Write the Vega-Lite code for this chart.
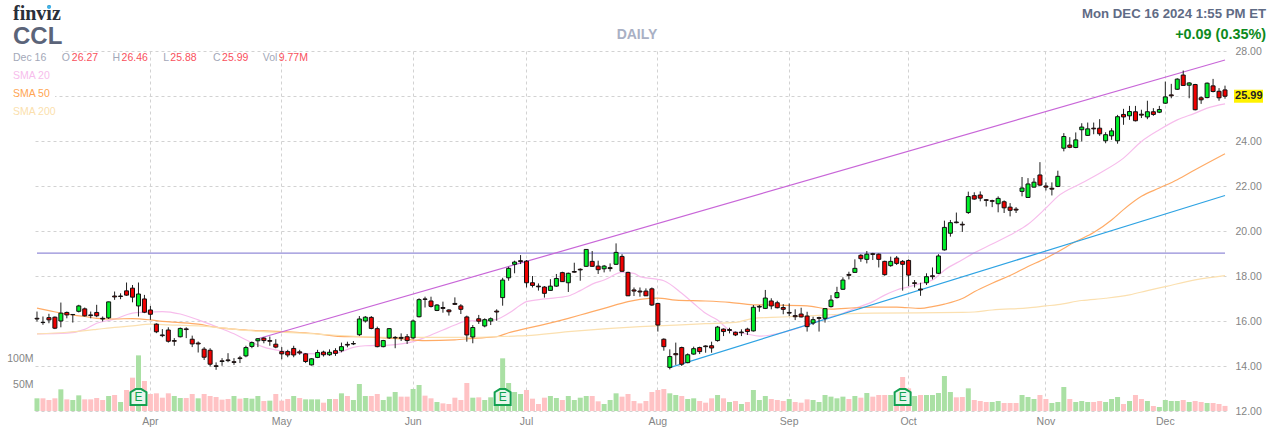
{
"$schema":"https://vega.github.io/schema/vega-lite/v6.json",
"width":1190,"height":360,"autosize":{"type":"none"},
"padding":{"left":35,"top":51,"right":55,"bottom":29},
"background":"white",
"config":{"view":{"stroke":null},"font":"Liberation Sans","axis":{"labelFont":"Liberation Sans"}},
"datasets":{
"bars":[
{"date":"2024-03-04","open":16.12,"high":16.42,"low":15.98,"close":16.09,"volume":24.4,"dir":"up"},
{"date":"2024-03-05","open":15.94,"high":16.2,"low":15.83,"close":15.93,"volume":24.4,"dir":"down"},
{"date":"2024-03-06","open":16.15,"high":16.32,"low":15.9,"close":16.05,"volume":21.2,"dir":"down"},
{"date":"2024-03-07","open":16.17,"high":16.2,"low":15.64,"close":15.68,"volume":24.4,"dir":"down"},
{"date":"2024-03-08","open":16.0,"high":16.82,"low":15.72,"close":16.35,"volume":41.7,"dir":"up"},
{"date":"2024-03-11","open":16.38,"high":16.42,"low":16.12,"close":16.27,"volume":22.4,"dir":"down"},
{"date":"2024-03-12","open":16.29,"high":16.31,"low":15.93,"close":16.28,"volume":21.2,"dir":"up"},
{"date":"2024-03-13","open":16.43,"high":16.72,"low":16.38,"close":16.67,"volume":30.1,"dir":"up"},
{"date":"2024-03-14","open":16.54,"high":16.6,"low":16.2,"close":16.23,"volume":22.4,"dir":"down"},
{"date":"2024-03-15","open":16.27,"high":16.42,"low":16.12,"close":16.24,"volume":22.4,"dir":"down"},
{"date":"2024-03-18","open":16.38,"high":16.72,"low":16.17,"close":16.23,"volume":25,"dir":"down"},
{"date":"2024-03-19","open":16.12,"high":16.2,"low":15.98,"close":16.09,"volume":21.2,"dir":"down"},
{"date":"2024-03-20","open":16.14,"high":16.86,"low":16.09,"close":16.85,"volume":28.8,"dir":"up"},
{"date":"2024-03-21","open":17.11,"high":17.31,"low":16.94,"close":17.07,"volume":30.8,"dir":"down"},
{"date":"2024-03-22","open":17.11,"high":17.23,"low":16.97,"close":17.09,"volume":17.3,"dir":"up"},
{"date":"2024-03-25","open":17.34,"high":17.71,"low":17.12,"close":17.15,"volume":40.4,"dir":"down"},
{"date":"2024-03-26","open":17.46,"high":17.6,"low":16.83,"close":17.06,"volume":64.1,"dir":"down"},
{"date":"2024-03-27","open":16.67,"high":17.71,"low":16.2,"close":17.2,"volume":107,"dir":"up"},
{"date":"2024-03-28","open":16.98,"high":17.16,"low":16.35,"close":16.39,"volume":57.7,"dir":"down"},
{"date":"2024-04-01","open":16.49,"high":16.67,"low":16.05,"close":16.3,"volume":32.7,"dir":"down"},
{"date":"2024-04-02","open":15.86,"high":15.9,"low":15.46,"close":15.52,"volume":34,"dir":"down"},
{"date":"2024-04-03","open":15.38,"high":15.64,"low":15.28,"close":15.35,"volume":25.6,"dir":"down"},
{"date":"2024-04-04","open":15.6,"high":15.72,"low":15.04,"close":15.1,"volume":34,"dir":"down"},
{"date":"2024-04-05","open":15.13,"high":15.24,"low":14.9,"close":15.1,"volume":28.8,"dir":"up"},
{"date":"2024-04-08","open":15.3,"high":15.71,"low":15.27,"close":15.67,"volume":25,"dir":"up"},
{"date":"2024-04-09","open":15.65,"high":15.72,"low":15.24,"close":15.62,"volume":25,"dir":"down"},
{"date":"2024-04-10","open":15.19,"high":15.35,"low":14.84,"close":14.98,"volume":32.7,"dir":"down"},
{"date":"2024-04-11","open":15.02,"high":15.09,"low":14.6,"close":14.98,"volume":24.4,"dir":"up"},
{"date":"2024-04-12","open":14.75,"high":14.84,"low":14.27,"close":14.39,"volume":32.7,"dir":"down"},
{"date":"2024-04-15","open":14.7,"high":14.79,"low":13.98,"close":14.08,"volume":28.8,"dir":"down"},
{"date":"2024-04-16","open":14.01,"high":14.16,"low":13.83,"close":13.98,"volume":26.9,"dir":"down"},
{"date":"2024-04-17","open":14.23,"high":14.35,"low":14.01,"close":14.2,"volume":21.8,"dir":"down"},
{"date":"2024-04-18","open":14.27,"high":14.57,"low":14.17,"close":14.24,"volume":23.1,"dir":"down"},
{"date":"2024-04-19","open":14.19,"high":14.35,"low":14.05,"close":14.16,"volume":28.8,"dir":"up"},
{"date":"2024-04-22","open":14.36,"high":14.45,"low":14.13,"close":14.33,"volume":23.7,"dir":"down"},
{"date":"2024-04-23","open":14.45,"high":14.9,"low":14.39,"close":14.82,"volume":25,"dir":"up"},
{"date":"2024-04-24","open":14.87,"high":15.09,"low":14.79,"close":15.04,"volume":23.7,"dir":"up"},
{"date":"2024-04-25","open":15.12,"high":15.24,"low":14.84,"close":15.21,"volume":28.8,"dir":"up"},
{"date":"2024-04-26","open":15.24,"high":15.28,"low":15.01,"close":15.13,"volume":19.2,"dir":"down"},
{"date":"2024-04-29","open":15.13,"high":15.31,"low":14.9,"close":15.1,"volume":19.9,"dir":"up"},
{"date":"2024-04-30","open":14.97,"high":15.19,"low":14.79,"close":14.84,"volume":32.7,"dir":"down"},
{"date":"2024-05-01","open":14.64,"high":14.84,"low":14.3,"close":14.54,"volume":19.9,"dir":"down"},
{"date":"2024-05-02","open":14.64,"high":14.72,"low":14.39,"close":14.49,"volume":23.1,"dir":"down"},
{"date":"2024-05-03","open":14.78,"high":14.9,"low":14.39,"close":14.49,"volume":28.8,"dir":"up"},
{"date":"2024-05-06","open":14.63,"high":14.72,"low":14.5,"close":14.58,"volume":25,"dir":"down"},
{"date":"2024-05-07","open":14.54,"high":14.57,"low":14.13,"close":14.2,"volume":22.4,"dir":"up"},
{"date":"2024-05-08","open":14.05,"high":14.35,"low":14.02,"close":14.32,"volume":22.4,"dir":"up"},
{"date":"2024-05-09","open":14.38,"high":14.72,"low":14.35,"close":14.6,"volume":22.4,"dir":"up"},
{"date":"2024-05-10","open":14.62,"high":14.68,"low":14.42,"close":14.5,"volume":16,"dir":"down"},
{"date":"2024-05-13","open":14.5,"high":14.74,"low":14.45,"close":14.61,"volume":23.1,"dir":"up"},
{"date":"2024-05-14","open":14.68,"high":14.79,"low":14.45,"close":14.56,"volume":23.1,"dir":"down"},
{"date":"2024-05-15","open":14.68,"high":15.04,"low":14.61,"close":14.86,"volume":34,"dir":"up"},
{"date":"2024-05-16","open":14.96,"high":15.08,"low":14.83,"close":14.93,"volume":28.8,"dir":"down"},
{"date":"2024-05-17","open":15.0,"high":15.11,"low":14.93,"close":14.98,"volume":21.2,"dir":"up"},
{"date":"2024-05-20","open":15.39,"high":16.22,"low":15.33,"close":16.09,"volume":51.9,"dir":"up"},
{"date":"2024-05-21","open":16.0,"high":16.22,"low":15.93,"close":16.17,"volume":28.8,"dir":"up"},
{"date":"2024-05-22","open":16.16,"high":16.22,"low":15.63,"close":15.67,"volume":28.8,"dir":"down"},
{"date":"2024-05-23","open":15.66,"high":15.75,"low":14.83,"close":14.86,"volume":32.7,"dir":"down"},
{"date":"2024-05-24","open":14.86,"high":15.16,"low":14.83,"close":15.13,"volume":21.2,"dir":"up"},
{"date":"2024-05-28","open":15.25,"high":15.67,"low":15.2,"close":15.66,"volume":27.6,"dir":"up"},
{"date":"2024-05-29","open":15.27,"high":15.33,"low":14.79,"close":15.25,"volume":36.5,"dir":"up"},
{"date":"2024-05-30","open":15.27,"high":15.45,"low":15.11,"close":15.23,"volume":27.6,"dir":"down"},
{"date":"2024-05-31","open":15.3,"high":15.42,"low":14.98,"close":15.13,"volume":27.6,"dir":"down"},
{"date":"2024-06-03","open":15.25,"high":16.07,"low":15.19,"close":16.0,"volume":42.3,"dir":"up"},
{"date":"2024-06-04","open":16.19,"high":17.01,"low":16.16,"close":16.95,"volume":50,"dir":"up"},
{"date":"2024-06-05","open":16.98,"high":17.08,"low":16.6,"close":16.96,"volume":29.5,"dir":"down"},
{"date":"2024-06-06","open":16.89,"high":17.08,"low":16.6,"close":16.65,"volume":24.4,"dir":"down"},
{"date":"2024-06-07","open":16.47,"high":16.75,"low":16.44,"close":16.71,"volume":17.3,"dir":"up"},
{"date":"2024-06-10","open":16.6,"high":16.86,"low":16.37,"close":16.56,"volume":14.7,"dir":"down"},
{"date":"2024-06-11","open":16.49,"high":16.52,"low":16.24,"close":16.41,"volume":13.5,"dir":"down"},
{"date":"2024-06-12","open":16.78,"high":17.05,"low":16.71,"close":16.74,"volume":25.6,"dir":"down"},
{"date":"2024-06-13","open":16.67,"high":16.75,"low":16.31,"close":16.52,"volume":21.2,"dir":"down"},
{"date":"2024-06-14","open":16.18,"high":16.24,"low":15.08,"close":15.38,"volume":53.8,"dir":"down"},
{"date":"2024-06-17","open":15.29,"high":15.82,"low":15.01,"close":15.71,"volume":25.6,"dir":"up"},
{"date":"2024-06-18","open":16.1,"high":16.27,"low":15.87,"close":15.99,"volume":26.3,"dir":"down"},
{"date":"2024-06-20","open":15.78,"high":16.12,"low":15.72,"close":16.06,"volume":21.2,"dir":"up"},
{"date":"2024-06-21","open":16.0,"high":16.16,"low":15.82,"close":16.1,"volume":26.3,"dir":"up"},
{"date":"2024-06-24","open":16.44,"high":16.52,"low":16.01,"close":16.4,"volume":14.7,"dir":"up"},
{"date":"2024-06-25","open":17.04,"high":17.92,"low":16.68,"close":17.82,"volume":101.3,"dir":"up"},
{"date":"2024-06-26","open":17.92,"high":18.41,"low":17.79,"close":18.34,"volume":53.8,"dir":"up"},
{"date":"2024-06-27","open":18.52,"high":18.68,"low":18.12,"close":18.62,"volume":36.5,"dir":"up"},
{"date":"2024-06-28","open":18.68,"high":18.93,"low":18.53,"close":18.64,"volume":32.7,"dir":"up"},
{"date":"2024-07-01","open":18.66,"high":18.71,"low":17.49,"close":17.7,"volume":40.4,"dir":"down"},
{"date":"2024-07-02","open":17.7,"high":18.0,"low":17.49,"close":17.58,"volume":23.7,"dir":"down"},
{"date":"2024-07-03","open":17.55,"high":17.67,"low":17.35,"close":17.52,"volume":13.5,"dir":"down"},
{"date":"2024-07-05","open":17.51,"high":17.55,"low":17.04,"close":17.23,"volume":25.6,"dir":"down"},
{"date":"2024-07-08","open":17.36,"high":17.86,"low":17.35,"close":17.55,"volume":28.8,"dir":"up"},
{"date":"2024-07-09","open":17.55,"high":18.09,"low":17.52,"close":17.89,"volume":25,"dir":"up"},
{"date":"2024-07-10","open":18.15,"high":18.19,"low":17.75,"close":17.75,"volume":21.2,"dir":"down"},
{"date":"2024-07-11","open":17.7,"high":18.15,"low":17.29,"close":18.12,"volume":28.8,"dir":"up"},
{"date":"2024-07-12","open":18.2,"high":18.59,"low":18.15,"close":18.17,"volume":21.2,"dir":"up"},
{"date":"2024-07-15","open":18.3,"high":18.34,"low":17.79,"close":18.27,"volume":25.6,"dir":"up"},
{"date":"2024-07-16","open":18.43,"high":19.2,"low":18.41,"close":19.18,"volume":28.8,"dir":"up"},
{"date":"2024-07-17","open":18.65,"high":19.11,"low":18.41,"close":18.43,"volume":28.8,"dir":"down"},
{"date":"2024-07-18","open":18.44,"high":18.68,"low":18.09,"close":18.28,"volume":18.6,"dir":"down"},
{"date":"2024-07-19","open":18.32,"high":18.49,"low":18.16,"close":18.44,"volume":13.5,"dir":"up"},
{"date":"2024-07-22","open":18.37,"high":18.56,"low":18.2,"close":18.33,"volume":21.2,"dir":"up"},
{"date":"2024-07-23","open":18.52,"high":19.45,"low":18.49,"close":19.05,"volume":34,"dir":"up"},
{"date":"2024-07-24","open":18.87,"high":18.97,"low":18.19,"close":18.21,"volume":27.6,"dir":"down"},
{"date":"2024-07-25","open":18.16,"high":18.19,"low":17.11,"close":17.12,"volume":32.7,"dir":"down"},
{"date":"2024-07-26","open":17.38,"high":17.49,"low":17.11,"close":17.33,"volume":19.2,"dir":"down"},
{"date":"2024-07-29","open":17.33,"high":17.49,"low":17.08,"close":17.29,"volume":14.7,"dir":"down"},
{"date":"2024-07-30","open":17.33,"high":17.45,"low":17.11,"close":17.12,"volume":19.2,"dir":"down"},
{"date":"2024-07-31","open":17.43,"high":17.49,"low":16.67,"close":16.71,"volume":36.5,"dir":"down"},
{"date":"2024-08-01","open":16.78,"high":16.81,"low":15.53,"close":15.82,"volume":40.4,"dir":"down"},
{"date":"2024-08-02","open":15.19,"high":15.23,"low":14.68,"close":14.86,"volume":42.3,"dir":"down"},
{"date":"2024-08-05","open":13.94,"high":14.74,"low":13.85,"close":14.42,"volume":34,"dir":"up"},
{"date":"2024-08-06","open":14.55,"high":15.04,"low":14.05,"close":14.5,"volume":30.8,"dir":"up"},
{"date":"2024-08-07","open":14.82,"high":14.86,"low":14.0,"close":14.08,"volume":28.8,"dir":"down"},
{"date":"2024-08-08","open":14.15,"high":14.56,"low":14.12,"close":14.5,"volume":23.1,"dir":"up"},
{"date":"2024-08-09","open":14.53,"high":14.86,"low":14.5,"close":14.77,"volume":24.4,"dir":"up"},
{"date":"2024-08-12","open":14.82,"high":14.86,"low":14.53,"close":14.64,"volume":19.2,"dir":"down"},
{"date":"2024-08-13","open":14.89,"high":14.92,"low":14.59,"close":14.86,"volume":16,"dir":"down"},
{"date":"2024-08-14","open":14.9,"high":15.08,"low":14.59,"close":14.8,"volume":24.4,"dir":"down"},
{"date":"2024-08-15","open":15.13,"high":15.78,"low":15.08,"close":15.73,"volume":30.8,"dir":"up"},
{"date":"2024-08-16","open":15.64,"high":15.67,"low":15.33,"close":15.53,"volume":24.4,"dir":"down"},
{"date":"2024-08-19","open":15.62,"high":15.7,"low":15.45,"close":15.58,"volume":17.3,"dir":"up"},
{"date":"2024-08-20","open":15.5,"high":15.53,"low":15.33,"close":15.38,"volume":19.2,"dir":"down"},
{"date":"2024-08-21","open":15.51,"high":15.63,"low":15.33,"close":15.48,"volume":13.5,"dir":"up"},
{"date":"2024-08-22","open":15.64,"high":15.7,"low":15.38,"close":15.53,"volume":17.3,"dir":"down"},
{"date":"2024-08-23","open":15.56,"high":16.71,"low":15.53,"close":16.61,"volume":40.4,"dir":"up"},
{"date":"2024-08-26","open":16.65,"high":16.71,"low":16.41,"close":16.62,"volume":21.2,"dir":"up"},
{"date":"2024-08-27","open":16.56,"high":17.38,"low":16.53,"close":17.02,"volume":28.8,"dir":"up"},
{"date":"2024-08-28","open":16.89,"high":17.01,"low":16.52,"close":16.67,"volume":23.1,"dir":"down"},
{"date":"2024-08-29","open":16.81,"high":16.9,"low":16.56,"close":16.59,"volume":21.2,"dir":"down"},
{"date":"2024-08-30","open":16.6,"high":16.75,"low":16.3,"close":16.52,"volume":19.2,"dir":"down"},
{"date":"2024-09-03","open":16.38,"high":16.78,"low":16.22,"close":16.35,"volume":23.1,"dir":"up"},
{"date":"2024-09-04","open":16.24,"high":16.52,"low":16.04,"close":16.19,"volume":17.3,"dir":"down"},
{"date":"2024-09-05","open":16.31,"high":16.59,"low":16.16,"close":16.18,"volume":16,"dir":"down"},
{"date":"2024-09-06","open":16.22,"high":16.41,"low":15.53,"close":15.75,"volume":22.4,"dir":"down"},
{"date":"2024-09-09","open":15.91,"high":16.19,"low":15.82,"close":16.06,"volume":21.2,"dir":"up"},
{"date":"2024-09-10","open":16.15,"high":16.19,"low":15.53,"close":16.12,"volume":17.3,"dir":"up"},
{"date":"2024-09-11","open":16.12,"high":16.56,"low":15.93,"close":16.55,"volume":30.8,"dir":"up"},
{"date":"2024-09-12","open":16.64,"high":17.15,"low":16.6,"close":16.93,"volume":27.6,"dir":"up"},
{"date":"2024-09-13","open":17.04,"high":17.52,"low":17.0,"close":17.26,"volume":24.4,"dir":"up"},
{"date":"2024-09-16","open":17.41,"high":17.94,"low":17.38,"close":17.82,"volume":27.6,"dir":"up"},
{"date":"2024-09-17","open":18.07,"high":18.19,"low":17.85,"close":18.03,"volume":23.1,"dir":"down"},
{"date":"2024-09-18","open":18.16,"high":18.74,"low":18.15,"close":18.34,"volume":28.8,"dir":"up"},
{"date":"2024-09-19","open":18.92,"high":18.97,"low":18.63,"close":18.77,"volume":25.6,"dir":"down"},
{"date":"2024-09-20","open":18.74,"high":19.11,"low":18.56,"close":18.97,"volume":34.6,"dir":"up"},
{"date":"2024-09-23","open":18.99,"high":19.03,"low":18.71,"close":18.96,"volume":27.6,"dir":"down"},
{"date":"2024-09-24","open":18.97,"high":19.0,"low":18.38,"close":18.74,"volume":30.8,"dir":"down"},
{"date":"2024-09-25","open":18.65,"high":18.68,"low":18.01,"close":18.06,"volume":30.8,"dir":"down"},
{"date":"2024-09-26","open":18.46,"high":18.86,"low":18.41,"close":18.65,"volume":30.8,"dir":"up"},
{"date":"2024-09-27","open":18.8,"high":18.89,"low":18.49,"close":18.56,"volume":25.6,"dir":"down"},
{"date":"2024-09-30","open":18.65,"high":18.71,"low":17.35,"close":18.52,"volume":65.4,"dir":"down"},
{"date":"2024-10-01","open":18.69,"high":18.74,"low":17.55,"close":18.04,"volume":43.6,"dir":"down"},
{"date":"2024-10-02","open":17.7,"high":17.82,"low":17.49,"close":17.67,"volume":28.8,"dir":"up"},
{"date":"2024-10-03","open":17.42,"high":17.7,"low":17.12,"close":17.38,"volume":30.8,"dir":"down"},
{"date":"2024-10-04","open":17.7,"high":18.12,"low":17.6,"close":17.97,"volume":30.8,"dir":"up"},
{"date":"2024-10-07","open":18.01,"high":18.38,"low":17.85,"close":17.97,"volume":30.8,"dir":"up"},
{"date":"2024-10-08","open":18.12,"high":18.97,"low":18.09,"close":18.89,"volume":34.6,"dir":"up"},
{"date":"2024-10-09","open":19.16,"high":20.46,"low":19.13,"close":20.16,"volume":67.3,"dir":"up"},
{"date":"2024-10-10","open":19.9,"high":20.49,"low":19.75,"close":20.37,"volume":36.5,"dir":"up"},
{"date":"2024-10-11","open":20.4,"high":20.82,"low":20.34,"close":20.37,"volume":26.3,"dir":"down"},
{"date":"2024-10-14","open":20.3,"high":20.42,"low":19.96,"close":20.27,"volume":26.9,"dir":"down"},
{"date":"2024-10-15","open":20.82,"high":21.75,"low":20.76,"close":21.53,"volume":43.6,"dir":"up"},
{"date":"2024-10-16","open":21.57,"high":21.72,"low":21.39,"close":21.42,"volume":21.2,"dir":"down"},
{"date":"2024-10-17","open":21.6,"high":21.76,"low":21.32,"close":21.46,"volume":19.2,"dir":"down"},
{"date":"2024-10-18","open":21.39,"high":21.42,"low":21.09,"close":21.36,"volume":17.3,"dir":"down"},
{"date":"2024-10-21","open":21.35,"high":21.39,"low":21.06,"close":21.32,"volume":17.3,"dir":"up"},
{"date":"2024-10-22","open":21.21,"high":21.54,"low":20.83,"close":21.45,"volume":19.2,"dir":"up"},
{"date":"2024-10-23","open":21.3,"high":21.36,"low":20.8,"close":21.03,"volume":15.4,"dir":"down"},
{"date":"2024-10-24","open":21.06,"high":21.24,"low":20.65,"close":20.92,"volume":15.4,"dir":"down"},
{"date":"2024-10-25","open":20.97,"high":21.06,"low":20.8,"close":20.93,"volume":15.4,"dir":"down"},
{"date":"2024-10-28","open":21.76,"high":22.4,"low":21.54,"close":21.91,"volume":30.8,"dir":"up"},
{"date":"2024-10-29","open":21.49,"high":22.35,"low":21.49,"close":22.09,"volume":26.9,"dir":"up"},
{"date":"2024-10-30","open":21.95,"high":22.35,"low":21.93,"close":22.17,"volume":23.1,"dir":"up"},
{"date":"2024-10-31","open":22.49,"high":23.06,"low":22.0,"close":22.04,"volume":30.8,"dir":"down"},
{"date":"2024-11-01","open":22.0,"high":22.16,"low":21.8,"close":21.95,"volume":23.1,"dir":"down"},
{"date":"2024-11-04","open":21.9,"high":22.16,"low":21.58,"close":21.86,"volume":15.4,"dir":"up"},
{"date":"2024-11-05","open":21.98,"high":22.68,"low":21.95,"close":22.43,"volume":17.3,"dir":"up"},
{"date":"2024-11-06","open":23.68,"high":24.35,"low":23.54,"close":24.2,"volume":46.2,"dir":"up"},
{"date":"2024-11-07","open":23.82,"high":24.17,"low":23.68,"close":23.72,"volume":23.1,"dir":"down"},
{"date":"2024-11-08","open":23.71,"high":24.38,"low":23.68,"close":24.05,"volume":17.3,"dir":"up"},
{"date":"2024-11-11","open":24.5,"high":24.79,"low":23.98,"close":24.62,"volume":19.2,"dir":"up"},
{"date":"2024-11-12","open":24.25,"high":24.82,"low":24.23,"close":24.54,"volume":17.3,"dir":"up"},
{"date":"2024-11-13","open":24.57,"high":24.82,"low":24.3,"close":24.54,"volume":17.3,"dir":"down"},
{"date":"2024-11-14","open":24.57,"high":24.97,"low":24.23,"close":24.32,"volume":19.2,"dir":"down"},
{"date":"2024-11-15","open":24.01,"high":24.39,"low":23.9,"close":24.28,"volume":17.3,"dir":"up"},
{"date":"2024-11-18","open":24.23,"high":24.57,"low":24.05,"close":24.45,"volume":23.1,"dir":"up"},
{"date":"2024-11-19","open":24.01,"high":25.16,"low":23.88,"close":25.08,"volume":26.9,"dir":"up"},
{"date":"2024-11-20","open":25.18,"high":25.43,"low":24.72,"close":25.07,"volume":13.5,"dir":"down"},
{"date":"2024-11-21","open":25.12,"high":25.56,"low":24.94,"close":25.31,"volume":19.2,"dir":"up"},
{"date":"2024-11-22","open":25.3,"high":25.56,"low":24.87,"close":24.9,"volume":30.8,"dir":"down"},
{"date":"2024-11-25","open":25.19,"high":25.39,"low":25.02,"close":25.15,"volume":23.1,"dir":"down"},
{"date":"2024-11-26","open":25.07,"high":25.79,"low":24.97,"close":25.3,"volume":19.2,"dir":"up"},
{"date":"2024-11-27","open":25.3,"high":25.46,"low":25.12,"close":25.18,"volume":9.6,"dir":"down"},
{"date":"2024-11-29","open":25.28,"high":25.56,"low":25.24,"close":25.4,"volume":7.7,"dir":"up"},
{"date":"2024-12-02","open":25.68,"high":26.64,"low":25.65,"close":25.96,"volume":21.2,"dir":"up"},
{"date":"2024-12-03","open":26.05,"high":26.54,"low":25.9,"close":26.01,"volume":19.2,"dir":"up"},
{"date":"2024-12-04","open":26.3,"high":26.79,"low":26.27,"close":26.75,"volume":19.2,"dir":"up"},
{"date":"2024-12-05","open":26.93,"high":27.13,"low":26.47,"close":26.47,"volume":21.2,"dir":"down"},
{"date":"2024-12-06","open":26.48,"high":26.61,"low":25.9,"close":26.58,"volume":17.3,"dir":"up"},
{"date":"2024-12-09","open":26.51,"high":26.54,"low":25.36,"close":25.39,"volume":19.2,"dir":"down"},
{"date":"2024-12-10","open":25.92,"high":25.98,"low":25.65,"close":25.83,"volume":17.3,"dir":"down"},
{"date":"2024-12-11","open":25.93,"high":26.6,"low":25.9,"close":26.57,"volume":15.4,"dir":"up"},
{"date":"2024-12-12","open":26.45,"high":26.76,"low":26.16,"close":26.2,"volume":15.4,"dir":"down"},
{"date":"2024-12-13","open":26.21,"high":26.35,"low":25.79,"close":25.92,"volume":13.5,"dir":"down"},
{"date":"2024-12-16","open":26.27,"high":26.46,"low":25.88,"close":25.99,"volume":9.77,"dir":"down"}
],
"lines":[
{"date":"2024-03-04","series":"sma20","price":15.43},{"date":"2024-03-11","series":"sma20","price":15.46},{"date":"2024-03-14","series":"sma20","price":15.63},{"date":"2024-03-18","series":"sma20","price":15.9},{"date":"2024-03-21","series":"sma20","price":16.08},{"date":"2024-03-26","series":"sma20","price":16.35},{"date":"2024-03-28","series":"sma20","price":16.39},{"date":"2024-04-03","series":"sma20","price":16.42},{"date":"2024-04-08","series":"sma20","price":16.31},{"date":"2024-04-11","series":"sma20","price":16.05},{"date":"2024-04-16","series":"sma20","price":15.75},{"date":"2024-04-19","series":"sma20","price":15.43},{"date":"2024-04-24","series":"sma20","price":15.04},{"date":"2024-04-26","series":"sma20","price":14.84},{"date":"2024-05-01","series":"sma20","price":14.67},{"date":"2024-05-06","series":"sma20","price":14.57},{"date":"2024-05-09","series":"sma20","price":14.54},{"date":"2024-05-14","series":"sma20","price":14.57},{"date":"2024-05-17","series":"sma20","price":14.83},{"date":"2024-05-21","series":"sma20","price":14.9},{"date":"2024-05-28","series":"sma20","price":14.93},{"date":"2024-05-30","series":"sma20","price":14.98},{"date":"2024-06-03","series":"sma20","price":15.08},{"date":"2024-06-05","series":"sma20","price":15.27},{"date":"2024-06-10","series":"sma20","price":15.6},{"date":"2024-06-12","series":"sma20","price":15.82},{"date":"2024-06-14","series":"sma20","price":16.01},{"date":"2024-06-20","series":"sma20","price":16.01},{"date":"2024-06-24","series":"sma20","price":16.07},{"date":"2024-06-26","series":"sma20","price":16.34},{"date":"2024-06-28","series":"sma20","price":16.71},{"date":"2024-07-01","series":"sma20","price":16.86},{"date":"2024-07-05","series":"sma20","price":16.98},{"date":"2024-07-11","series":"sma20","price":17.11},{"date":"2024-07-15","series":"sma20","price":17.35},{"date":"2024-07-17","series":"sma20","price":17.64},{"date":"2024-07-19","series":"sma20","price":17.82},{"date":"2024-07-24","series":"sma20","price":18.16},{"date":"2024-07-26","series":"sma20","price":18.12},{"date":"2024-07-29","series":"sma20","price":17.97},{"date":"2024-08-01","series":"sma20","price":17.85},{"date":"2024-08-02","series":"sma20","price":17.79},{"date":"2024-08-07","series":"sma20","price":17.23},{"date":"2024-08-09","series":"sma20","price":16.78},{"date":"2024-08-13","series":"sma20","price":16.34},{"date":"2024-08-15","series":"sma20","price":16.04},{"date":"2024-08-19","series":"sma20","price":15.6},{"date":"2024-08-22","series":"sma20","price":15.42},{"date":"2024-08-26","series":"sma20","price":15.33},{"date":"2024-08-28","series":"sma20","price":15.38},{"date":"2024-09-06","series":"sma20","price":15.82},{"date":"2024-09-12","series":"sma20","price":16.19},{"date":"2024-09-16","series":"sma20","price":16.34},{"date":"2024-09-18","series":"sma20","price":16.56},{"date":"2024-09-23","series":"sma20","price":16.86},{"date":"2024-09-25","series":"sma20","price":17.15},{"date":"2024-09-27","series":"sma20","price":17.38},{"date":"2024-10-01","series":"sma20","price":17.52},{"date":"2024-10-03","series":"sma20","price":17.67},{"date":"2024-10-07","series":"sma20","price":17.82},{"date":"2024-10-09","series":"sma20","price":18.26},{"date":"2024-10-14","series":"sma20","price":18.72},{"date":"2024-10-16","series":"sma20","price":19.03},{"date":"2024-10-21","series":"sma20","price":19.42},{"date":"2024-10-24","series":"sma20","price":19.82},{"date":"2024-10-29","series":"sma20","price":20.3},{"date":"2024-11-01","series":"sma20","price":21.02},{"date":"2024-11-05","series":"sma20","price":21.54},{"date":"2024-11-11","series":"sma20","price":22.13},{"date":"2024-11-14","series":"sma20","price":22.57},{"date":"2024-11-20","series":"sma20","price":23.24},{"date":"2024-11-25","series":"sma20","price":23.98},{"date":"2024-11-29","series":"sma20","price":24.5},{"date":"2024-12-04","series":"sma20","price":24.94},{"date":"2024-12-09","series":"sma20","price":25.24},{"date":"2024-12-11","series":"sma20","price":25.46},{"date":"2024-12-16","series":"sma20","price":25.65},
{"date":"2024-03-04","series":"sma50","price":16.57},{"date":"2024-03-06","series":"sma50","price":16.46},{"date":"2024-03-11","series":"sma50","price":16.3},{"date":"2024-03-14","series":"sma50","price":16.2},{"date":"2024-03-18","series":"sma50","price":16.12},{"date":"2024-03-21","series":"sma50","price":16.09},{"date":"2024-03-26","series":"sma50","price":16.11},{"date":"2024-04-01","series":"sma50","price":16.05},{"date":"2024-04-03","series":"sma50","price":15.98},{"date":"2024-04-08","series":"sma50","price":15.93},{"date":"2024-04-11","series":"sma50","price":15.86},{"date":"2024-04-16","series":"sma50","price":15.72},{"date":"2024-04-19","series":"sma50","price":15.64},{"date":"2024-04-24","series":"sma50","price":15.58},{"date":"2024-04-26","series":"sma50","price":15.56},{"date":"2024-05-01","series":"sma50","price":15.53},{"date":"2024-05-06","series":"sma50","price":15.49},{"date":"2024-05-09","series":"sma50","price":15.43},{"date":"2024-05-14","series":"sma50","price":15.33},{"date":"2024-05-17","series":"sma50","price":15.3},{"date":"2024-05-23","series":"sma50","price":15.27},{"date":"2024-05-30","series":"sma50","price":15.2},{"date":"2024-06-05","series":"sma50","price":15.13},{"date":"2024-06-12","series":"sma50","price":15.16},{"date":"2024-06-17","series":"sma50","price":15.23},{"date":"2024-06-24","series":"sma50","price":15.3},{"date":"2024-06-26","series":"sma50","price":15.48},{"date":"2024-07-01","series":"sma50","price":15.67},{"date":"2024-07-05","series":"sma50","price":15.85},{"date":"2024-07-11","series":"sma50","price":16.12},{"date":"2024-07-16","series":"sma50","price":16.34},{"date":"2024-07-19","series":"sma50","price":16.56},{"date":"2024-07-25","series":"sma50","price":16.86},{"date":"2024-07-29","series":"sma50","price":16.96},{"date":"2024-08-01","series":"sma50","price":17.02},{"date":"2024-08-06","series":"sma50","price":16.93},{"date":"2024-08-13","series":"sma50","price":16.89},{"date":"2024-08-19","series":"sma50","price":16.83},{"date":"2024-08-23","series":"sma50","price":16.72},{"date":"2024-08-28","series":"sma50","price":16.71},{"date":"2024-09-06","series":"sma50","price":16.67},{"date":"2024-09-12","series":"sma50","price":16.53},{"date":"2024-09-18","series":"sma50","price":16.59},{"date":"2024-09-23","series":"sma50","price":16.62},{"date":"2024-09-27","series":"sma50","price":16.62},{"date":"2024-10-03","series":"sma50","price":16.56},{"date":"2024-10-07","series":"sma50","price":16.64},{"date":"2024-10-09","series":"sma50","price":16.75},{"date":"2024-10-14","series":"sma50","price":17.0},{"date":"2024-10-16","series":"sma50","price":17.3},{"date":"2024-10-21","series":"sma50","price":17.68},{"date":"2024-10-24","series":"sma50","price":18.02},{"date":"2024-10-29","series":"sma50","price":18.42},{"date":"2024-11-01","series":"sma50","price":18.79},{"date":"2024-11-05","series":"sma50","price":19.08},{"date":"2024-11-08","series":"sma50","price":19.53},{"date":"2024-11-13","series":"sma50","price":19.93},{"date":"2024-11-18","series":"sma50","price":20.49},{"date":"2024-11-20","series":"sma50","price":20.95},{"date":"2024-11-25","series":"sma50","price":21.54},{"date":"2024-11-29","series":"sma50","price":21.91},{"date":"2024-12-04","series":"sma50","price":22.28},{"date":"2024-12-09","series":"sma50","price":22.72},{"date":"2024-12-16","series":"sma50","price":23.43},
{"date":"2024-03-04","series":"sma200","price":15.43},{"date":"2024-03-11","series":"sma200","price":15.5},{"date":"2024-03-18","series":"sma200","price":15.63},{"date":"2024-03-21","series":"sma200","price":15.72},{"date":"2024-03-26","series":"sma200","price":15.78},{"date":"2024-04-01","series":"sma200","price":15.86},{"date":"2024-04-04","series":"sma200","price":15.83},{"date":"2024-04-11","series":"sma200","price":15.78},{"date":"2024-04-16","series":"sma200","price":15.72},{"date":"2024-04-23","series":"sma200","price":15.58},{"date":"2024-05-07","series":"sma200","price":15.45},{"date":"2024-05-21","series":"sma200","price":15.3},{"date":"2024-05-29","series":"sma200","price":15.27},{"date":"2024-06-12","series":"sma200","price":15.27},{"date":"2024-06-27","series":"sma200","price":15.33},{"date":"2024-07-01","series":"sma200","price":15.35},{"date":"2024-07-11","series":"sma200","price":15.53},{"date":"2024-07-29","series":"sma200","price":15.75},{"date":"2024-08-06","series":"sma200","price":15.82},{"date":"2024-08-13","series":"sma200","price":15.88},{"date":"2024-08-20","series":"sma200","price":15.94},{"date":"2024-08-23","series":"sma200","price":16.12},{"date":"2024-08-28","series":"sma200","price":16.16},{"date":"2024-09-06","series":"sma200","price":16.22},{"date":"2024-09-16","series":"sma200","price":16.31},{"date":"2024-09-23","series":"sma200","price":16.35},{"date":"2024-10-14","series":"sma200","price":16.38},{"date":"2024-10-16","series":"sma200","price":16.4},{"date":"2024-10-21","series":"sma200","price":16.49},{"date":"2024-10-29","series":"sma200","price":16.58},{"date":"2024-11-01","series":"sma200","price":16.67},{"date":"2024-11-05","series":"sma200","price":16.73},{"date":"2024-11-11","series":"sma200","price":16.91},{"date":"2024-11-15","series":"sma200","price":17.01},{"date":"2024-11-21","series":"sma200","price":17.16},{"date":"2024-11-26","series":"sma200","price":17.35},{"date":"2024-12-02","series":"sma200","price":17.53},{"date":"2024-12-09","series":"sma200","price":17.83},{"date":"2024-12-16","series":"sma200","price":18.02},
{"date":"2024-03-04","series":"level","price":19.02},{"date":"2024-12-16","series":"level","price":19.02},
{"date":"2024-04-25","series":"channel","price":15.21},{"date":"2024-12-16","series":"channel","price":27.6},
{"date":"2024-08-05","series":"support","price":13.93},{"date":"2024-12-16","series":"support","price":21.58}
],
"events":[{"date":"2024-03-27","level":12.62,"label":"E"},{"date":"2024-06-25","level":12.62,"label":"E"},{"date":"2024-09-30","level":12.62,"label":"E"}]
},
"resolve":{"scale":{"y":"independent"},"axis":{"y":"independent"}},
"encoding":{"x":{"field":"date","type":"ordinal","title":null,
 "scale":{"range":[-1,1193],"paddingInner":0,"paddingOuter":0},
 "axis":{"values":["2024-04-01","2024-05-01","2024-06-03","2024-07-01","2024-08-01","2024-09-03","2024-10-01","2024-11-01","2024-12-02"],
  "labelExpr":"['Apr','May','Jun','Jul','Aug','Sep','Oct','Nov','Dec'][toNumber(slice(datum.value,5,7))-4]",
  "labelAngle":0,"labelAlign":"center","labelPadding":5,"labelFontSize":10.5,"labelColor":"#858585","ticks":false,"domain":false,"grid":true,"gridDash":[3,3],"gridColor":"#d2d2d2","labelOverlap":false}}},
"layer":[
{"data":{"name":"bars"},"mark":{"type":"bar","size":5},
 "encoding":{"y":{"field":"volume","type":"quantitative","stack":null,"title":null,"scale":{"domain":[0,692.3],"nice":false,"zero":true},
  "axis":{"orient":"left","values":[50,100],"labelExpr":"datum.value+'M'","grid":false,"ticks":false,"domain":false,"labelPadding":2,"labelFontSize":10.5,"labelColor":"#858585"}},
  "color":{"condition":{"test":"datum.dir==='up'","value":"#aae0a4"},"value":"#ffc2c4"}}},
{"layer":[
 {"data":{"name":"lines"},"mark":{"type":"line","strokeWidth":1.2,"interpolate":"monotone"},
  "encoding":{"y":{"field":"price","type":"quantitative","title":null,"scale":{"domain":[12,28],"nice":false,"zero":false},
   "axis":{"orient":"right","values":[12,14,16,18,20,22,24,26,28],"format":".2f","grid":true,"gridDash":[3,3],"gridColor":"#d2d2d2","ticks":false,"domain":false,"labelPadding":10,"labelFontSize":10.5,"labelColor":"#858585"}},
   "color":{"field":"series","type":"nominal","legend":null,"scale":{"domain":["sma20","sma50","sma200","level","channel","support"],"range":["#f7bdec","#ffab66","#fbe0b0","#938cd8","#c866d8","#2ea3e3"]}}}},
 {"data":{"name":"bars"},"mark":{"type":"rule","color":"#222222","strokeWidth":1},
  "encoding":{"y":{"field":"high","type":"quantitative"},"y2":{"field":"low"}}},
 {"data":{"name":"bars"},"mark":{"type":"bar","size":4,"stroke":"#111111","strokeWidth":1},
  "encoding":{"y":{"field":"open","type":"quantitative"},"y2":{"field":"close"},
   "fill":{"condition":{"test":"datum.close>datum.open","value":"#00f02a"},"value":"#f00000"}}},
 {"data":{"name":"events"},"mark":{"type":"point","shape":"M-1,-0.6L-0.35,-1L0.35,-1L1,-0.6L1,1L-1,1Z","size":256,"filled":true,"fill":"#e8f6ec","stroke":"#12a150","strokeWidth":2,"opacity":1},
  "encoding":{"y":{"field":"level","type":"quantitative"}}},
 {"data":{"name":"events"},"mark":{"type":"text","fontSize":12,"color":"#12a150"},
  "encoding":{"y":{"field":"level","type":"quantitative"},"text":{"field":"label"}}},
 {"data":{"values":[{"date":"2024-12-16","price":25.99}]},"mark":{"type":"point","shape":"M9,-6.5H38V6.5H9Z","size":4,"filled":true,"fill":"#fff200","opacity":1,"stroke":null},
  "encoding":{"y":{"field":"price","type":"quantitative"}}},
 {"data":{"values":[{"date":"2024-12-16","price":25.99,"label":"25.99"}]},"mark":{"type":"text","align":"left","dx":10,"fontSize":11,"fontWeight":"bold","color":"#222222"},
  "encoding":{"y":{"field":"price","type":"quantitative"},"text":{"field":"label"}}},
 {"data":{"values":[{"date":"2024-03-04","price":28}]},"mark":{"type":"point","shape":"M-8,-2H25V2H-8Z","size":4,"filled":true,"fill":"white","opacity":1,"stroke":null},
  "encoding":{"y":{"field":"price","type":"quantitative"}}},
 {"data":{"values":[{"date":"2024-03-04","price":26}]},"mark":{"type":"point","shape":"M-8,-2H18V2H-8Z","size":4,"filled":true,"fill":"white","opacity":1,"stroke":null},
  "encoding":{"y":{"field":"price","type":"quantitative"}}},
 {"data":{"values":[{"date":"2024-03-04","price":29.64,"label":"finviz"}]},"mark":{"type":"text","align":"left","dx":-24,"font":"Liberation Serif","fontSize":20,"fontWeight":"bold","color":"#2a2f3a"},
  "encoding":{"y":{"field":"price","type":"quantitative"},"text":{"field":"label"}}},
 {"data":{"values":[{"date":"2024-03-04","price":29.96}]},"mark":{"type":"point","shape":"M14,0A2,2 0 1 1 10,0A2,2 0 1 1 14,0Z","size":4,"filled":true,"fill":"#3fb2e8","opacity":1,"stroke":null},
  "encoding":{"y":{"field":"price","type":"quantitative"}}},
 {"data":{"values":[{"date":"2024-03-04","price":28.62,"label":"CCL"}]},"mark":{"type":"text","align":"left","dx":-24,"fontSize":24,"fontWeight":"bold","color":"#5b6479"},
  "encoding":{"y":{"field":"price","type":"quantitative"},"text":{"field":"label"}}},
 {"data":{"values":[{"date":"2024-03-04","price":27.69,"label":"Dec 16"}]},"mark":{"type":"text","align":"left","dx":-24,"fontSize":10.5,"color":"#a3a8b8"},
  "encoding":{"y":{"field":"price","type":"quantitative"},"text":{"field":"label"}}},
 {"data":{"values":[{"date":"2024-03-08","price":27.69,"label":"O"}]},"mark":{"type":"text","align":"left","dx":1,"fontSize":10.5,"color":"#a3a8b8"},
  "encoding":{"y":{"field":"price","type":"quantitative"},"text":{"field":"label"}}},
 {"data":{"values":[{"date":"2024-03-12","price":27.69,"label":"26.27"}]},"mark":{"type":"text","align":"left","dx":-1,"fontSize":10.5,"color":"#f9505c"},
  "encoding":{"y":{"field":"price","type":"quantitative"},"text":{"field":"label"}}},
 {"data":{"values":[{"date":"2024-03-21","price":27.69,"label":"H"}]},"mark":{"type":"text","align":"left","dx":-2,"fontSize":10.5,"color":"#a3a8b8"},
  "encoding":{"y":{"field":"price","type":"quantitative"},"text":{"field":"label"}}},
 {"data":{"values":[{"date":"2024-03-22","price":27.69,"label":"26.46"}]},"mark":{"type":"text","align":"left","dx":1,"fontSize":10.5,"color":"#f9505c"},
  "encoding":{"y":{"field":"price","type":"quantitative"},"text":{"field":"label"}}},
 {"data":{"values":[{"date":"2024-04-03","price":27.69,"label":"L"}]},"mark":{"type":"text","align":"left","dx":1,"fontSize":10.5,"color":"#a3a8b8"},
  "encoding":{"y":{"field":"price","type":"quantitative"},"text":{"field":"label"}}},
 {"data":{"values":[{"date":"2024-04-04","price":27.69,"label":"25.88"}]},"mark":{"type":"text","align":"left","dx":2,"fontSize":10.5,"color":"#f9505c"},
  "encoding":{"y":{"field":"price","type":"quantitative"},"text":{"field":"label"}}},
 {"data":{"values":[{"date":"2024-04-16","price":27.69,"label":"C"}]},"mark":{"type":"text","align":"left","dx":-3,"fontSize":10.5,"color":"#a3a8b8"},
  "encoding":{"y":{"field":"price","type":"quantitative"},"text":{"field":"label"}}},
 {"data":{"values":[{"date":"2024-04-17","price":27.69,"label":"25.99"}]},"mark":{"type":"text","align":"left","dx":0,"fontSize":10.5,"color":"#f9505c"},
  "encoding":{"y":{"field":"price","type":"quantitative"},"text":{"field":"label"}}},
 {"data":{"values":[{"date":"2024-04-26","price":27.69,"label":"Vol"}]},"mark":{"type":"text","align":"left","dx":-1,"fontSize":10.5,"color":"#a3a8b8"},
  "encoding":{"y":{"field":"price","type":"quantitative"},"text":{"field":"label"}}},
 {"data":{"values":[{"date":"2024-05-01","price":27.69,"label":"9.77M"}]},"mark":{"type":"text","align":"left","dx":-3,"fontSize":10.5,"color":"#f9505c"},
  "encoding":{"y":{"field":"price","type":"quantitative"},"text":{"field":"label"}}},
 {"data":{"values":[{"date":"2024-03-04","price":26.89,"label":"SMA 20"}]},"mark":{"type":"text","align":"left","dx":-24,"fontSize":10.5,"color":"#f7bdec"},
  "encoding":{"y":{"field":"price","type":"quantitative"},"text":{"field":"label"}}},
 {"data":{"values":[{"date":"2024-03-04","price":26.09,"label":"SMA 50"}]},"mark":{"type":"text","align":"left","dx":-24,"fontSize":10.5,"color":"#ffa552"},
  "encoding":{"y":{"field":"price","type":"quantitative"},"text":{"field":"label"}}},
 {"data":{"values":[{"date":"2024-03-04","price":25.29,"label":"SMA 200"}]},"mark":{"type":"text","align":"left","dx":-24,"fontSize":10.5,"color":"#fbdfae"},
  "encoding":{"y":{"field":"price","type":"quantitative"},"text":{"field":"label"}}},
 {"data":{"values":[{"date":"2024-07-26","price":28.71,"label":"DAILY"}]},"mark":{"type":"text","align":"center","dx":3,"fontSize":14,"fontWeight":"bold","color":"#a9b0c4"},
  "encoding":{"y":{"field":"price","type":"quantitative"},"text":{"field":"label"}}},
 {"data":{"values":[{"date":"2024-12-16","price":29.64,"label":"Mon DEC 16 2024 1:55 PM ET"}]},"mark":{"type":"text","align":"right","dx":41,"fontSize":13.2,"fontWeight":"bold","color":"#5f6b85"},
  "encoding":{"y":{"field":"price","type":"quantitative"},"text":{"field":"label"}}},
 {"data":{"values":[{"date":"2024-12-16","price":28.71,"label":"+0.09 (0.35%)"}]},"mark":{"type":"text","align":"right","dx":41,"fontSize":14.4,"fontWeight":"bold","color":"#0c8a20"},
  "encoding":{"y":{"field":"price","type":"quantitative"},"text":{"field":"label"}}}
]}
]
}
